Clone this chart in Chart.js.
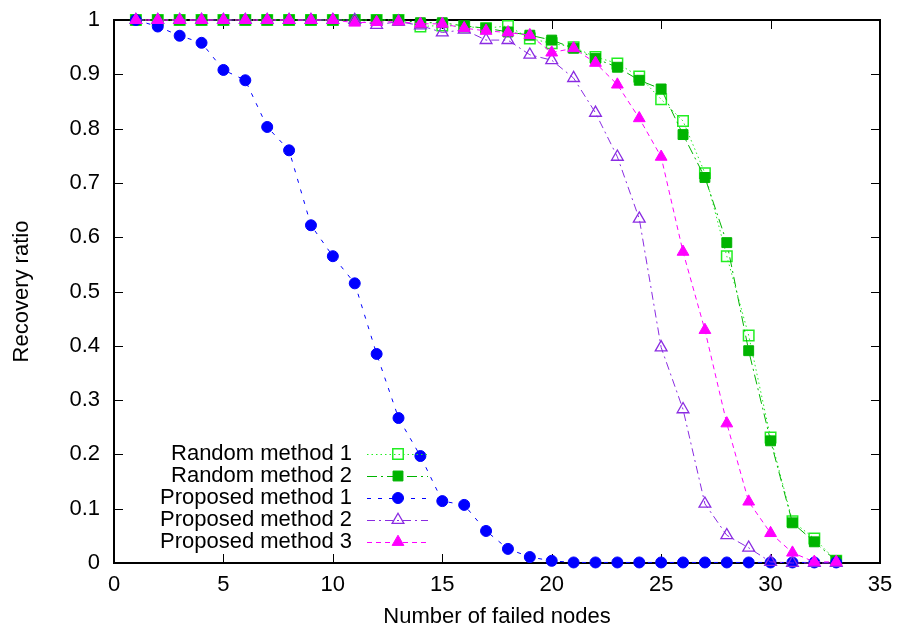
<!DOCTYPE html>
<html>
<head>
<meta charset="utf-8">
<script src="https://cdn.jsdelivr.net/npm/chart.js@4.4.1/dist/chart.umd.min.js"></script>
<style>
  html, body { margin: 0; padding: 0; background: #fff; }
  #wrap { width: 898px; height: 630px; }
</style>
</head>
<body>
<div id="wrap"><canvas id="c" width="898" height="630"></canvas></div>
<script>
// ---------- data ----------
const failedNodes = [1,2,3,4,5,6,7,8,9,10,11,12,13,14,15,16,17,18,19,20,21,22,23,24,25,26,27,28,29,30,31,32,33];

const randomMethod1 = [1.000,1.000,1.000,1.000,1.000,1.000,1.000,1.000,1.000,1.000,1.000,1.000,1.000,0.988,0.990,0.988,0.985,0.989,0.966,0.957,0.950,0.932,0.920,0.896,0.854,0.814,0.718,0.565,0.419,0.231,0.077,0.045,0.004];
const randomMethod2 = [1.000,1.000,1.000,1.000,1.000,1.000,1.000,1.000,1.000,1.000,1.000,1.000,1.000,0.995,0.995,0.989,0.985,0.978,0.972,0.963,0.948,0.929,0.913,0.889,0.873,0.789,0.710,0.590,0.391,0.225,0.074,0.039,0.004];
const proposedMethod1 = [1.000,0.988,0.971,0.958,0.908,0.889,0.803,0.760,0.622,0.565,0.515,0.385,0.267,0.197,0.114,0.107,0.059,0.026,0.011,0.004,0.001,0.001,0.001,0.001,0.001,0.001,0.001,0.001,0.001,0.001,0.001,0.001,0.001];
const proposedMethod2 = [1.000,1.000,1.000,1.000,1.000,1.000,1.000,1.000,1.000,1.000,1.000,0.991,0.997,0.990,0.977,0.982,0.963,0.963,0.936,0.926,0.893,0.829,0.748,0.634,0.397,0.283,0.109,0.051,0.028,0.002,0.000,0.000,0.000];
const proposedMethod3 = [1.000,1.000,1.000,1.000,1.000,1.000,1.000,1.000,1.000,1.000,0.995,0.996,0.997,0.993,0.993,0.985,0.980,0.977,0.972,0.940,0.948,0.921,0.881,0.819,0.748,0.573,0.429,0.257,0.113,0.055,0.019,0.002,0.002];

const seriesNames = ['Random method 1','Random method 2','Proposed method 1','Proposed method 2','Proposed method 3'];
const xTicks = [0,5,10,15,20,25,30,35];
const yTicks = [0,0.1,0.2,0.3,0.4,0.5,0.6,0.7,0.8,0.9,1];
const yTickLabels = ['0','0.1','0.2','0.3','0.4','0.5','0.6','0.7','0.8','0.9','1'];
const xTitle = 'Number of failed nodes';
const yTitle = 'Recovery ratio';

// ---------- styles ----------
const FONT = 'Liberation Sans, Arial, Helvetica, sans-serif';
const FS = 22;
const styles = [
  {color:'#22ee22', fill:'rgba(0,0,0,0)', point:'rect', radius:7.4, dash:[1.5,3], bw:1.5},
  {color:'#00b400', fill:'#00b400', point:'rect', radius:7, dash:[10,4,2,4], bw:1},
  {color:'#0000ff', fill:'#0000ff', point:'circle', radius:5.5, dash:[4,7], bw:1},
  {color:'#8a2be2', fill:'rgba(0,0,0,0)', point:'triangle', radius:6.8, dash:[8,4,2,4], bw:1.3},
  {color:'#ff00ff', fill:'#ff00ff', point:'triangle', radius:6.8, dash:[5,4], bw:1}
];
const seriesValues = [randomMethod1, randomMethod2, proposedMethod1, proposedMethod2, proposedMethod3];

const datasets = seriesValues.map((vals, i) => ({
  label: seriesNames[i],
  data: failedNodes.map((n, k) => ({x: n, y: vals[k]})),
  borderColor: styles[i].color,
  backgroundColor: styles[i].fill,
  borderWidth: 1,
  borderDash: styles[i].dash,
  pointStyle: styles[i].point,
  pointRadius: styles[i].radius,
  pointBorderWidth: styles[i].bw,
  pointBorderColor: styles[i].color,
  pointBackgroundColor: styles[i].fill,
  tension: 0,
  clip: false,
  order: seriesNames.length - i
}));

// frame + inward ticks
const framePlugin = {
  id: 'frame',
  beforeDatasetsDraw(chart) {
    const {ctx, chartArea: a, scales} = chart;
    ctx.save();
    ctx.strokeStyle = '#000';
    ctx.lineWidth = 1;
    ctx.setLineDash([]);
    const L = 9;
    ctx.beginPath();
    xTicks.forEach(v => {
      const px = Math.round(scales.x.getPixelForValue(v)) + 0.5;
      ctx.moveTo(px, a.bottom); ctx.lineTo(px, a.bottom - L);
      ctx.moveTo(px, a.top); ctx.lineTo(px, a.top + L);
    });
    yTicks.forEach(v => {
      const py = Math.round(scales.y.getPixelForValue(v)) + 0.5;
      ctx.moveTo(a.left, py); ctx.lineTo(a.left + L, py);
      ctx.moveTo(a.right, py); ctx.lineTo(a.right - L, py);
    });
    ctx.stroke();
    ctx.lineWidth = 2;
    ctx.strokeRect(a.left, a.top, a.right - a.left, a.bottom - a.top);
    ctx.restore();
  }
};

// gnuplot-style legend (text right-aligned, sample on the right)
const legendPlugin = {
  id: 'gpLegend',
  afterDatasetsDraw(chart) {
    const {ctx} = chart;
    const textRight = 352, x0 = 367, x1 = 428, xm = 398, y0 = 454, dy = 22;
    ctx.save();
    chart.data.datasets.forEach((ds, i) => {
      const y = y0 + i * dy;
      ctx.font = FS + 'px ' + FONT;
      ctx.fillStyle = '#000';
      ctx.textAlign = 'right';
      ctx.textBaseline = 'middle';
      ctx.fillText(ds.label, textRight, y);
      ctx.strokeStyle = ds.borderColor;
      ctx.lineWidth = 1;
      ctx.setLineDash(ds.borderDash);
      ctx.beginPath();
      ctx.moveTo(x0, y + 0.5); ctx.lineTo(x1, y + 0.5);
      ctx.stroke();
      ctx.setLineDash([]);
      ctx.fillStyle = ds.pointBackgroundColor;
      ctx.strokeStyle = ds.pointBorderColor;
      ctx.lineWidth = ds.pointBorderWidth;
      Chart.helpers.drawPoint(ctx, {pointStyle: ds.pointStyle, radius: ds.pointRadius, rotation: 0, borderWidth: ds.pointBorderWidth}, xm, y);
    });
    ctx.restore();
  }
};

new Chart(document.getElementById('c'), {
  type: 'line',
  data: { datasets },
  options: {
    responsive: false,
    animation: false,
    devicePixelRatio: 1,
    layout: { padding: { left: 0, right: 18, top: 20, bottom: 0 } },
    plugins: { legend: { display: false }, tooltip: { enabled: false } },
    scales: {
      x: {
        type: 'linear', min: 0, max: 35,
        grid: { display: false, drawTicks: false },
        border: { display: false },
        afterBuildTicks: s => { s.ticks = xTicks.map(v => ({value: v})); },
        afterFit: s => { s.height = 67; s.paddingLeft = 0; s.paddingRight = 0; },
        ticks: { padding: 9, color: '#000', font: { family: FONT, size: FS }, maxRotation: 0, autoSkip: false,
                 callback: v => String(v) },
        title: { display: true, text: xTitle, color: '#000', font: { family: FONT, size: FS, lineHeight: 1.2 }, padding: { top: 0, bottom: 0 } }
      },
      y: {
        type: 'linear', min: 0, max: 1,
        grid: { display: false, drawTicks: false },
        border: { display: false },
        afterBuildTicks: s => { s.ticks = yTicks.map(v => ({value: v})); },
        afterFit: s => { s.width = 114; s.paddingTop = 0; s.paddingBottom = 0; },
        ticks: { padding: 14, color: '#000', font: { family: FONT, size: FS }, autoSkip: false,
                 callback: (v, idx) => yTickLabels[idx] },
        title: { display: true, text: yTitle, color: '#000', font: { family: FONT, size: FS, lineHeight: 1.2 }, padding: { top: 9, bottom: 9 } }
      }
    }
  },
  plugins: [framePlugin, legendPlugin]
});
</script>
</body>
</html>
